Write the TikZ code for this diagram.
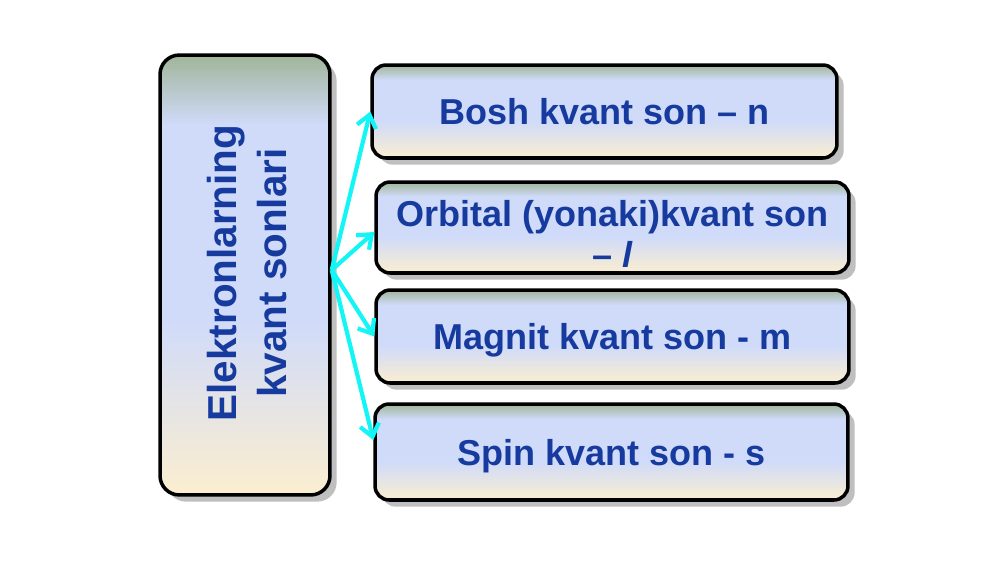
\documentclass[tikz,border=0pt]{standalone}
\usepackage{fontspec}
\setmainfont{Liberation Sans}
\usetikzlibrary{shadows,arrows.meta}
\definecolor{boxtop}{RGB}{160,181,154}
\definecolor{boxmid}{RGB}{208,219,250}
\definecolor{boxbot}{RGB}{251,238,208}
\definecolor{textblue}{RGB}{22,58,158}
\definecolor{arrowcyan}{RGB}{20,245,245}
\pgfdeclareverticalshading{boxfade}{100bp}{color(0bp)=(boxbot); color(25bp)=(boxbot); color(45bp)=(boxmid); color(67bp)=(boxmid); color(75bp)=(boxtop); color(100bp)=(boxtop)}
\begin{document}
\begin{tikzpicture}[x=0.02cm,y=-0.02cm,
    qbox/.style={draw=black, line width=2pt, rounded corners=8pt, shading=boxfade,
      drop shadow={shadow xshift=3.8pt,shadow yshift=-3.8pt,fill=black!25,opacity=1},
      text=textblue, font=\fontsize{20.5}{24.5}\selectfont\bfseries, align=center,
      inner sep=0pt, text depth=-5pt},
    qtext/.style={text=textblue, font=\fontsize{20.5}{23.8}\selectfont\bfseries, align=center, inner sep=0pt},
    link/.style={draw=arrowcyan, line width=2.4pt, -{Straight Barb[length=7pt,width=11pt]}}]
  \useasboundingbox (0,0) rectangle (1000,562);

  % left box
  \node[qbox, rounded corners=11pt, minimum width=3.4cm, minimum height=8.8cm] (quant) at (245,275) {};
  \node[rotate=90, text=textblue, align=center, font=\fontsize{23}{28.5}\selectfont\bfseries] (qlabel) at (247,273)
    {Elektronlarning\\kvant sonlari};

  % right boxes
  \node[qbox, minimum width=9.3cm, minimum height=1.86cm] (bosh) at (604.5,111.5) {Bosh kvant son -- n};
  \node[qbox, minimum width=9.46cm, minimum height=1.82cm] (orbital) at (612.5,227.5) {};
  \node[qtext] (orbitaltext) at ([yshift=-0.13cm]orbital.center) {Orbital (yonaki)kvant son\\-- \textit{l}};
  \node[qbox, minimum width=9.46cm, minimum height=1.86cm] (magnit) at (612.5,336.5) {Magnit kvant son - m};
  \node[qbox, minimum width=9.46cm, minimum height=1.92cm] (spin) at (611.5,452) {Spin kvant son - s};

  % arrows
  \coordinate (fork) at ([yshift=0.1cm]quant.east);
  \draw[link] (fork) -- (bosh.west);
  \draw[link] (fork) -- ([yshift=-0.09cm]orbital.west);
  \draw[link] (fork) -- (magnit.west);
  \draw[link] (fork) -- ([yshift=0.24cm]spin.west);
\end{tikzpicture}
\end{document}
